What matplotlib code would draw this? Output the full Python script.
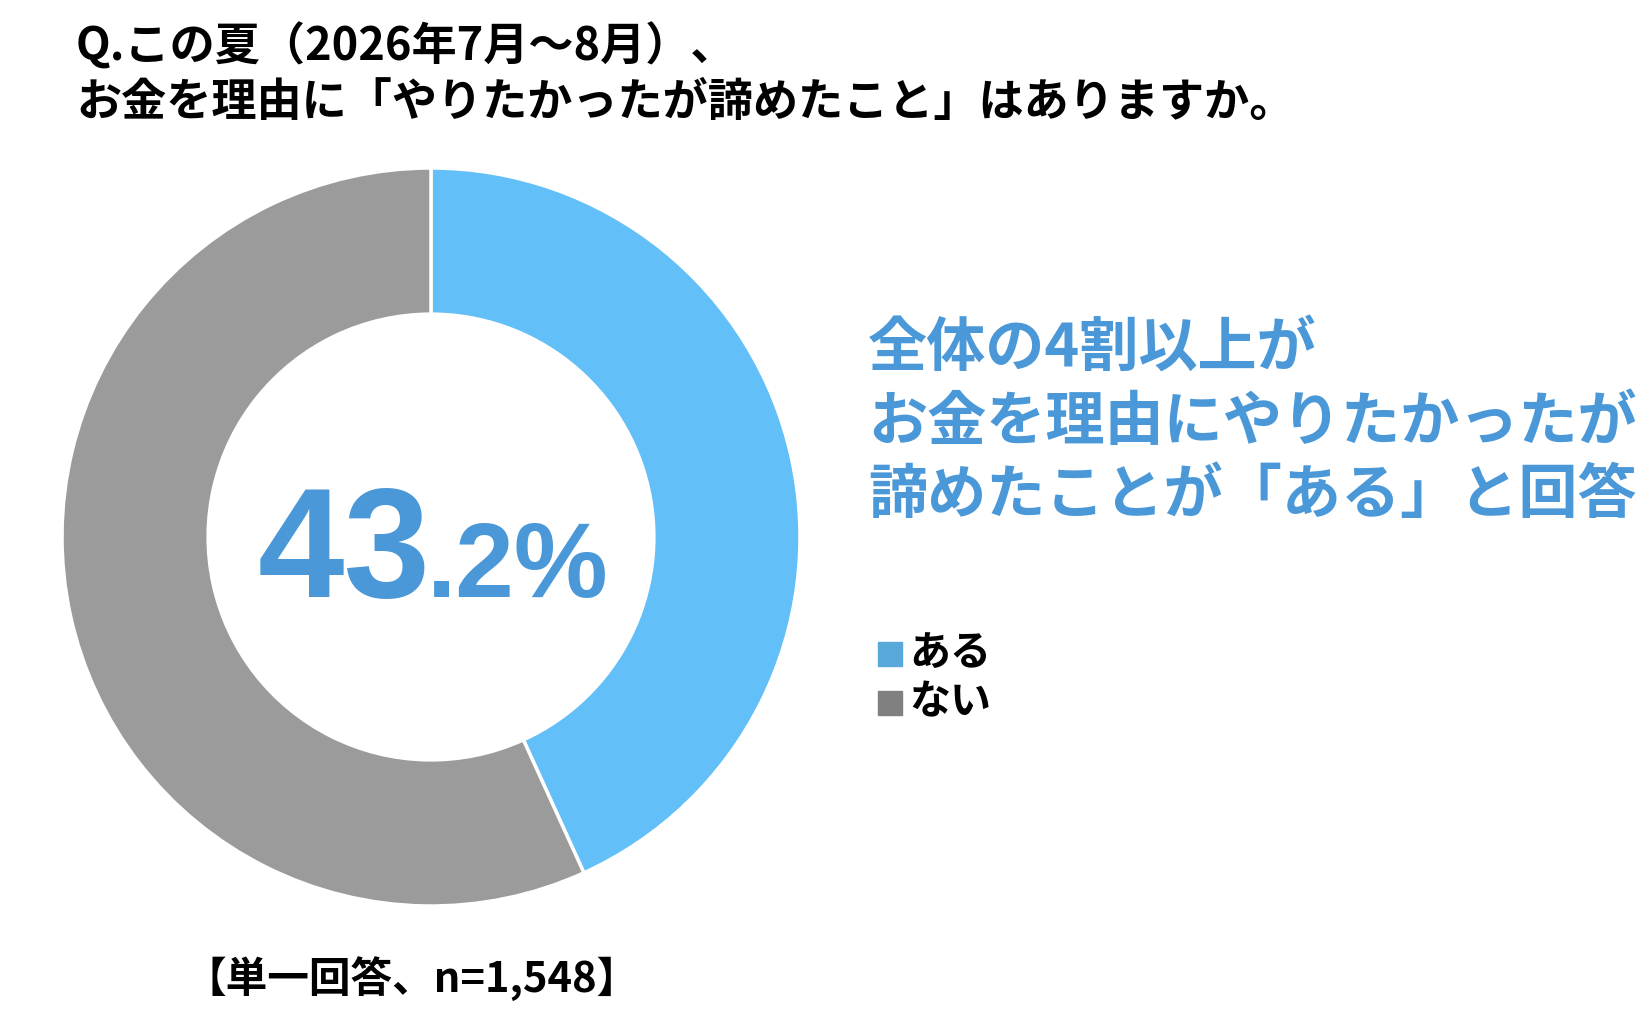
import matplotlib
matplotlib.use("Agg")
import matplotlib.pyplot as plt
from matplotlib.patches import Rectangle

plt.rcParams['font.family'] = ['Noto Sans CJK JP', 'DejaVu Sans']

# Data
labels = ["ある", "ない"]
values = [43.2, 56.8]
colors = ["#63BFF7", "#9B9B9B"]
legend_colors = ["#58A8DA", "#808080"]

title_lines = ["Q.この夏（2026年7月～8月）、",
               "お金を理由に「やりたかったが諦めたこと」はありますか。"]
callout_lines = ["全体の4割以上が",
                 "お金を理由にやりたかったが",
                 "諦めたことが「ある」と回答"]
note = "【単一回答、n=1,548】"

W, H = 1646, 1016
fig = plt.figure(figsize=(W / 100, H / 100), dpi=100)


def fx(px):
    return px / W


def fy(py):
    return 1 - py / H


# Donut
cx, cy, r = 431, 537, 369
ax = fig.add_axes([fx(cx - r), fy(cy + r), 2 * r / W, 2 * r / H])
ax.pie(values, colors=colors, startangle=90, counterclock=False, radius=1,
       wedgeprops=dict(width=0.396, edgecolor="white", linewidth=2.5))
ax.set_xlim(-1, 1)
ax.set_ylim(-1, 1)
ax.set_aspect("auto")
ax.axis("off")

# Center value
blue_text = "#4A98D8"
fig.text(fx(258), fy(597), "43", fontsize=112, fontweight="bold",
         color=blue_text, family=["Liberation Sans"], ha="left", va="baseline")
fig.text(fx(427), fy(597), ".2%", fontsize=76, fontweight="bold",
         color=blue_text, family=["Liberation Sans"], ha="left", va="baseline")

# Title
for i, line in enumerate(title_lines):
    fig.text(fx(76), fy(47 + i * 56), line, fontsize=32.5, fontweight="bold",
             color="black", ha="left", va="center")

# Callout
for i, line in enumerate(callout_lines):
    fig.text(fx(868), fy(350 + i * 73), line, fontsize=42.6, fontweight="bold",
             color=blue_text, ha="left", va="center")

# Legend
for i, (lab, col) in enumerate(zip(labels, legend_colors)):
    yc = 654 + i * 49
    fig.patches.append(Rectangle((fx(878), fy(yc + 12)), 24 / W, 24 / H,
                                 transform=fig.transFigure, color=col))
    fig.text(fx(909), fy(yc - 1), lab, fontsize=29.5, fontweight="bold",
             color="black", ha="left", va="center")

# Note
fig.text(fx(185), fy(980), note, fontsize=30, fontweight="bold",
         color="black", ha="left", va="center")

fig.savefig("out.png", dpi=100, facecolor="white")
